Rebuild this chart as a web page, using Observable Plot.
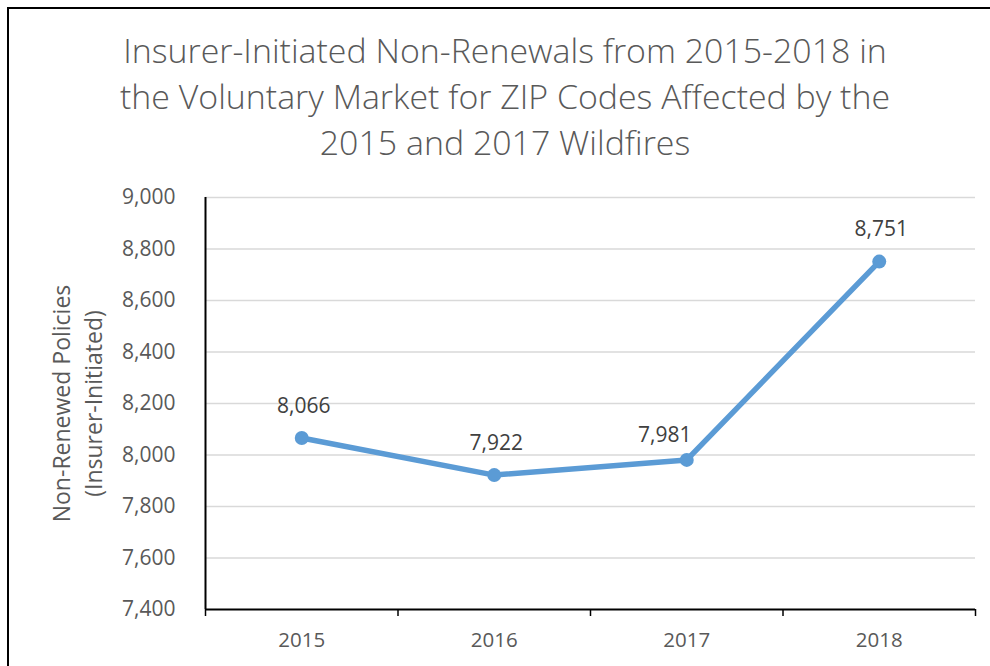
<!DOCTYPE html>
<html>
<head>
<meta charset="utf-8">
<script src="https://cdn.jsdelivr.net/npm/d3@7"></script>
<script src="https://cdn.jsdelivr.net/npm/@observablehq/plot@0.6"></script>
<style>
  html, body { margin: 0; padding: 0; background: #fff; }
  #wrap { position: relative; width: 990px; height: 666px; overflow: hidden; background: #fff; font-family: "Open Sans", sans-serif; }
  #border { position: absolute; left: 7px; top: 7px; width: 990px; height: 700px; border-top: 2px solid #000; border-left: 2px solid #000; pointer-events: none; }
  #title { box-sizing: border-box; height: 175px; padding-top: 27px; padding-left: 20px; text-align: center; color: #595959; font-size: 33.9px; line-height: 46px; font-weight: 300; }
  #chart svg { display: block; }
</style>
</head>
<body>
<div id="wrap">
  <div id="title">Insurer-Initiated Non-Renewals from 2015-2018 in<br>the Voluntary Market for ZIP Codes Affected by the<br>2015 and 2017 Wildfires</div>
  <div id="chart"></div>
  <div id="border"></div>
</div>
<script>
const years = [2015, 2016, 2017, 2018];
const values = [8066, 7922, 7981, 8751];
const yTicks = [7400, 7600, 7800, 8000, 8200, 8400, 8600, 8800, 9000];
const yTitle = ["Non-Renewed Policies", "(Insurer-Initiated)"];

const data = years.map((year, i) => ({year, value: values[i], i}));
const boundaries = [...years.map(y => y - 0.5), years[years.length - 1] + 0.5];
const fmt = d3.format(",");
const blue = "#5b9bd5";

const plot = Plot.plot({
  width: 990,
  height: 491,
  marginTop: 22,
  marginBottom: 57,
  marginLeft: 205,
  marginRight: 15,
  style: {fontFamily: "Open Sans", background: "#fff"},
  x: {type: "linear", domain: [boundaries[0], boundaries[boundaries.length - 1]], label: null},
  y: {domain: [yTicks[0], yTicks[yTicks.length - 1]], label: null},
  marks: [
    Plot.ruleY(yTicks.slice(1), {stroke: "#d9d9d9", strokeWidth: 1.5}),
    Plot.axisY(yTicks, {tickSize: 0, tickPadding: 30, tickFormat: fmt, fontSize: 21, color: "#595959", label: null}),
    Plot.axisX(years, {tickSize: 0, tickPadding: 23, tickFormat: d => String(d), fontSize: 20.5, color: "#595959", label: null}),
    Plot.axisX(boundaries, {tickSize: 7, tickFormat: () => "", stroke: "#000", strokeWidth: 1.5, strokeOpacity: 1, label: null}),
    Plot.ruleX([boundaries[0]], {stroke: "#000", strokeWidth: 2}),
    Plot.ruleY([yTicks[0]], {stroke: "#000", strokeWidth: 2}),
    Plot.line(data, {x: "year", y: "value", stroke: blue, strokeWidth: 5.5, strokeLinejoin: "round", strokeLinecap: "round"}),
    Plot.dot(data, {x: "year", y: "value", r: 7, fill: blue, stroke: null}),
    Plot.text(data.filter(d => d.i !== 2), {x: "year", y: "value", text: d => fmt(d.value), dx: 2, dy: -32, fontSize: 21, fill: "#404040"}),
    Plot.text(data.filter(d => d.i === 2), {x: "year", y: "value", text: d => fmt(d.value), dx: -22, dy: -25, fontSize: 21, fill: "#404040"}),
    Plot.text([yTitle.join("\n")], {frameAnchor: "left", text: d => d, rotate: -90, dx: -129.5, lineHeight: 1.4, fontSize: 23, fill: "#595959", textAnchor: "middle", lineAnchor: "middle"})
  ]
});
document.getElementById("chart").appendChild(plot);
</script>
</body>
</html>
